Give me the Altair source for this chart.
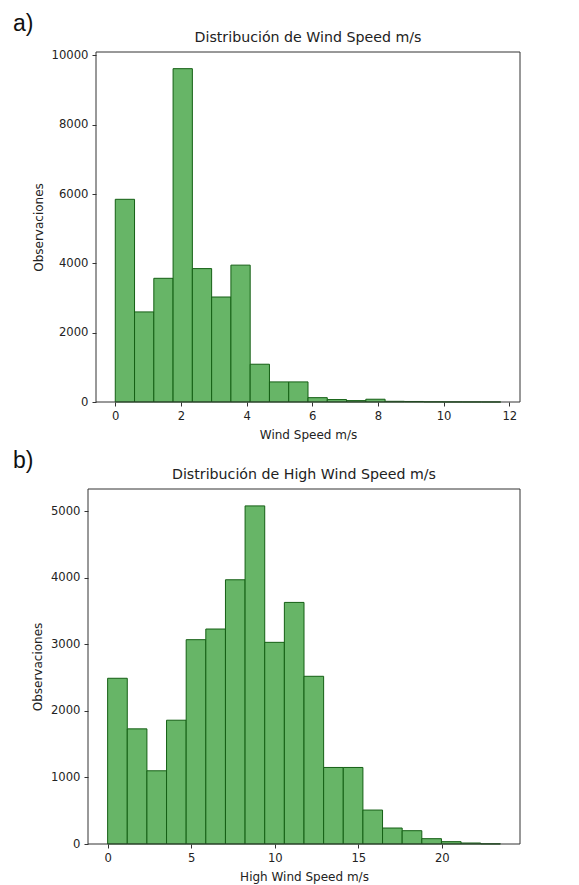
import altair as alt
import numpy as np
import pandas as pd

# Panel a) Wind Speed m/s
ws_counts = [5850, 2600, 3570, 9620, 3850, 3030, 3950, 1090, 580, 580,
             125, 70, 40, 80, 20, 15, 6, 3, 2, 1]
ws_min, ws_max = 0.0, 11.74

# Panel b) High Wind Speed m/s
hws_counts = [2490, 1730, 1100, 1860, 3070, 3230, 3970, 5080, 3030, 3630,
              2520, 1150, 1150, 510, 240, 200, 80, 35, 15, 3]
hws_min, hws_max = 0.0, 23.5

ws_ticks_x = [0, 2, 4, 6, 8, 10, 12]
ws_ticks_y = [0, 2000, 4000, 6000, 8000, 10000]
hws_ticks_x = [0, 5, 10, 15, 20]
hws_ticks_y = [0, 1000, 2000, 3000, 4000, 5000]

FILL = "#67b567"
EDGE = "#145f14"
FONT = "DejaVu Sans"
W = 432


def make_df(counts, lo, hi):
    edges = np.linspace(lo, hi, len(counts) + 1)
    return pd.DataFrame({"start": edges[:-1], "end": edges[1:], "count": counts})


def panel(counts, lo, hi, xticks, yticks, title, xlabel, tag, inset, h):
    df = make_df(counts, lo, hi)
    pad = (hi - lo) * 0.05
    ytop = max(counts) * 1.05
    bars = alt.Chart(df).mark_rect(fill=FILL, stroke=EDGE, strokeWidth=1).encode(
        x=alt.X("start:Q",
                scale=alt.Scale(domain=[lo - pad, hi + pad], nice=False, zero=False,
                                range=[inset, W]),
                axis=alt.Axis(values=xticks, title=xlabel, format="d")),
        x2="end:Q",
        y=alt.Y("count:Q", scale=alt.Scale(domain=[0, ytop], nice=False),
                axis=alt.Axis(values=yticks, title="Observaciones", format="d",
                              offset=-inset)),
    )
    frame = alt.Chart(df).mark_rect(fill=None, stroke="#333", strokeWidth=1).encode(
        x=alt.value(inset), x2=alt.value(W), y=alt.value(0), y2=alt.value(h)
    ).transform_filter("datum.start == 0")
    txt = pd.DataFrame({"tag": [tag], "title": [title]})
    label = alt.Chart(txt).mark_text(
        font="Liberation Sans", fontSize=23, align="left", baseline="top", color="#111"
    ).encode(text="tag:N", x=alt.value(-75), y=alt.value(-39))
    head = alt.Chart(txt).mark_text(
        font=FONT, fontSize=14.2, align="center", baseline="middle", color="#222"
    ).encode(text="title:N", x=alt.value((inset + W) / 2), y=alt.value(-14))
    return alt.layer(bars, frame, label, head).properties(width=W, height=h)


a = panel(ws_counts, ws_min, ws_max, ws_ticks_x, ws_ticks_y,
          "Distribución de Wind Speed m/s", "Wind Speed m/s", "a)", 8, 350)
b = panel(hws_counts, hws_min, hws_max, hws_ticks_x, hws_ticks_y,
          "Distribución de High Wind Speed m/s", "High Wind Speed m/s", "b)", 0, 355)

chart = alt.vconcat(a, b, spacing=9, background="white").configure_view(
    strokeWidth=0
).configure_axis(
    labelFont=FONT, titleFont=FONT, labelFontSize=11.6, titleFontSize=12,
    titleFontWeight="normal", labelColor="#222", titleColor="#222",
    domain=False, grid=False, tickSize=4, tickColor="#333", labelPadding=4,
    titlePadding=6
).configure_axisX(titlePadding=8)

chart.save("out.html", embed_options={"renderer": "svg", "actions": False})
